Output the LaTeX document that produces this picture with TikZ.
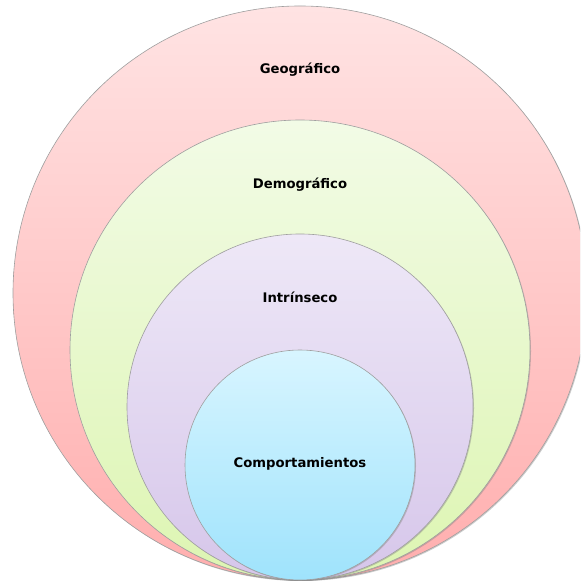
\documentclass[tikz,border=0pt]{standalone}
\usepackage{fontspec}
\setmainfont{DejaVu Sans}
\usetikzlibrary{shadows}
\definecolor{geoTop}{HTML}{FFE3E3}
\definecolor{geoBot}{HTML}{FFAEAE}
\definecolor{demTop}{HTML}{F2FBE6}
\definecolor{demBot}{HTML}{DDF5B2}
\definecolor{intTop}{HTML}{EEE8F7}
\definecolor{intBot}{HTML}{D6C6EA}
\definecolor{comTop}{HTML}{D8F5FF}
\definecolor{comBot}{HTML}{9FE3FC}
\begin{document}
\begin{tikzpicture}[x=1pt,y=1pt,
  ring/.style={draw=gray!75,line width=0.6pt,drop shadow={shadow xshift=1pt,shadow yshift=-1pt,opacity=0.4}},
  tag/.style={font=\fontsize{13.2}{15}\selectfont\bfseries,text=black}]
\useasboundingbox (0,0) rectangle (580,585);
\clip (0,0) rectangle (580,585);
% nested circles, all touching at the bottom
\shade[ring,top color=geoTop,bottom color=geoBot] (300,292) circle (287);
\shade[ring,top color=demTop,bottom color=demBot] (300,235) circle (230);
\shade[ring,top color=intTop,bottom color=intBot] (300,178) circle (173);
\shade[ring,top color=comTop,bottom color=comBot] (300,120) circle (115);
% labels
\node[tag] (geo) at (300,515) {Geográfico};
\node[tag] (dem) at (300,400) {Demográfico};
\node[tag] (intr) at (300,288) {Intrínseco};
\node[tag] (comp) at (300,121) {Comportamientos};
\end{tikzpicture}
\end{document}
